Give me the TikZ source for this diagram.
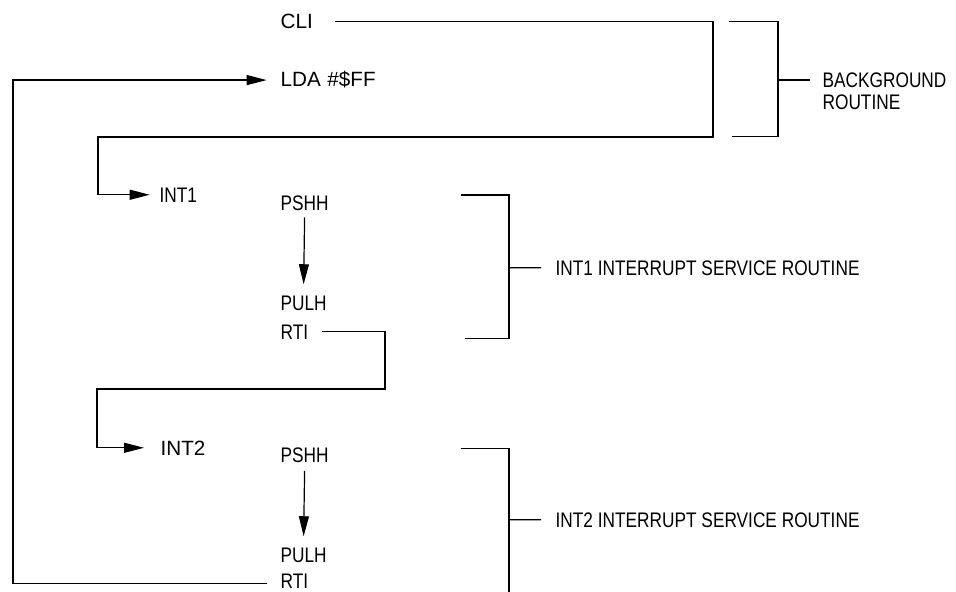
\documentclass[tikz,border=0pt]{standalone}
\usepackage{fontspec}
\setmainfont{Liberation Sans}
\newfontfamily\slimfont{Liberation Sans}[FakeStretch=0.82]
\usetikzlibrary{arrows.meta}

\tikzset{every picture/.style={line width=0.9pt}}
\tikzset{
  instr/.style={anchor=base west, inner sep=0pt, font=\fontsize{15.5}{16.5}\selectfont},
  slim/.style={instr, font=\slimfont\fontsize{15.8}{16.5}\selectfont},
  flow/.style={-{Triangle[length=15pt,width=7.5pt]}},
}

\begin{document}
\begin{tikzpicture}[x=0.75pt,y=0.75pt,yscale=-1,xscale=1]
\useasboundingbox (0,0) rectangle (956,592);

% Text Node
\draw (280,29) node [instr] (cli) {CLI};
% Text Node
\draw (280,87) node [instr] (lda) {LDA\hspace{5pt}\#\$FF};
% Text Node
\draw (159,202) node [slim] (int1) {INT1};
% Text Node
\draw (280,210) node [slim] (pshhA) {PSHH};
% Text Node
\draw (280,310) node [slim] (pulhA) {PULH};
% Text Node
\draw (280,339) node [slim] (rtiA) {RTI};
% Text Node
\draw (160,455) node [instr] (int2) {INT2};
% Text Node
\draw (280,462) node [slim] (pshhB) {PSHH};
% Text Node
\draw (280,562) node [slim] (pulhB) {PULH};
% Text Node
\draw (280,588) node [slim] (rtiB) {RTI};
% Text Node
\draw (822,91) node [slim, anchor=west, align=left] (bg) {BACKGROUND\\ROUTINE};
% Text Node
\draw (555,275) node [slim] (isrA) {INT1 INTERRUPT SERVICE ROUTINE};
% Text Node
\draw (555,527) node [slim] (isrB) {INT2 INTERRUPT SERVICE ROUTINE};

% bend points
\coordinate (bgcorner) at (713,137);
\coordinate (leftA) at (98,137);
\coordinate (midA) at (385,389);
\coordinate (leftB) at (97,389);
\coordinate (loopx) at (13,0);

%Straight Lines: background -> INT1
\draw [flow] ([xshift=16pt]cli.east) -| (bgcorner) -- (leftA) |- ([xshift=-7pt]int1.west);
%Straight Lines: INT1 RTI -> INT2
\draw [flow] ([xshift=10pt]rtiA.east) -| (midA) -- (leftB) |- ([xshift=-12pt]int2.west);
%Straight Lines: INT2 RTI -> LDA
\draw [flow] ([xshift=-10pt,yshift=2pt]rtiB.west) -| (loopx |- lda.west) -- ([xshift=-10pt]lda.west);
%Straight Lines: PSHH -> PULH
\draw [flow] ([yshift=5pt]pshhA.south) -- ([yshift=-8pt]pulhA.north);
\draw [flow] ([yshift=6pt]pshhB.south) -- ([yshift=-8pt]pulhB.north);

%Brackets
\draw (729,21.7) -- (778,21.7) -- (778,136.7) -- (732,136.7);
\draw (778,80) -- (810,80);
\draw (461,195) -- (509,195) -- (509,338.7) -- (465,338.7);
\draw (509,267.8) -- ([xshift=-10.5pt]isrA.west);
\draw (461,448.3) -- (509,448.3) -- (509,592);
\draw (509,519.8) -- ([xshift=-10.5pt]isrB.west);

\end{tikzpicture}
\end{document}
